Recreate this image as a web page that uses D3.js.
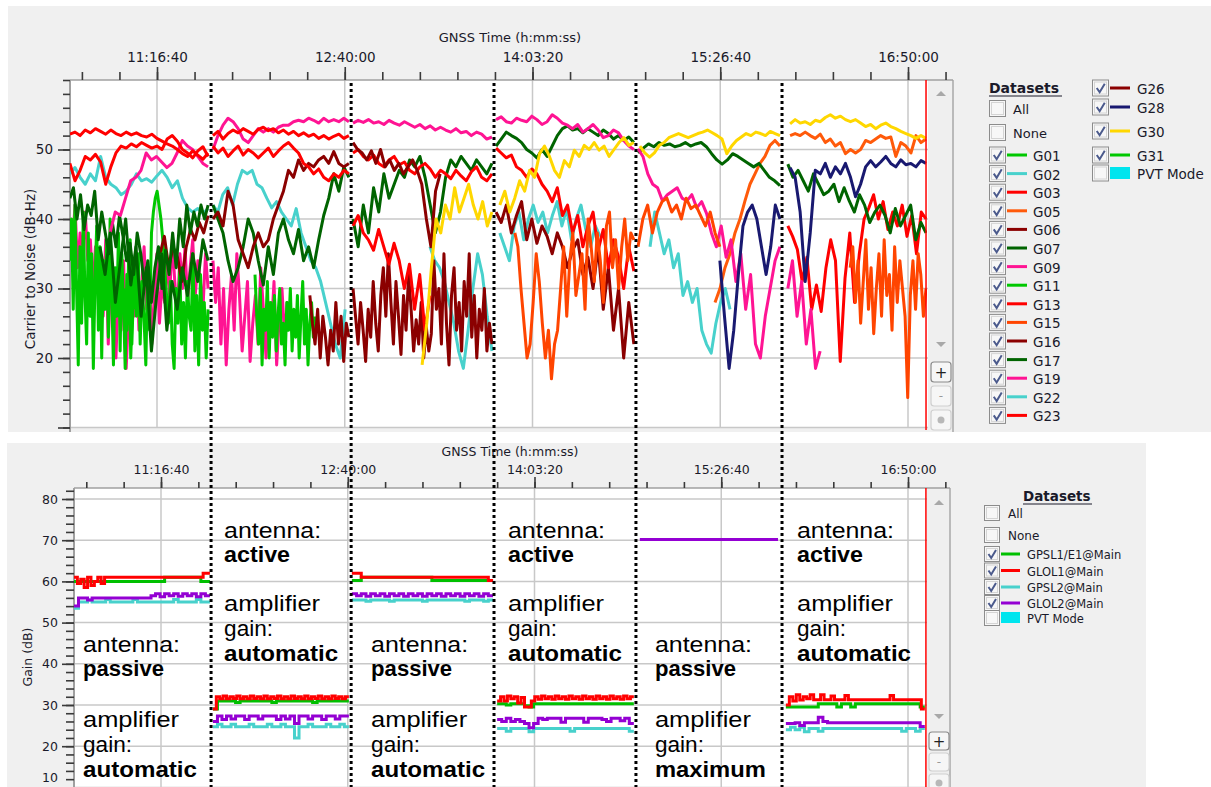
<!DOCTYPE html>
<html><head><meta charset="utf-8">
<script src="https://cdn.jsdelivr.net/npm/d3@7"></script>
<style>body{margin:0;background:#fff;} svg{display:block;}</style>
</head><body><svg id="c" width="1211" height="787"></svg>
<script>
// ================= DATA =================
// time in seconds of day (GNSS time)
const timeMajorTicks = [40600, 45600, 50600, 55600, 60600];
const timeMinorTicks = d3.range(38600, 61601, 1000);
const cnMajorTicks = [10, 20, 30, 40, 50];
const cnMinorTicks = d3.range(10, 61, 2);
const gainMajorTicks = [10, 20, 30, 40, 50, 60, 70, 80];
const gainMinorTicks = d3.range(10, 83, 2);
const modeChanges = [42040, 45770, 49575, 53355, 57245];
const cursorTime = 61080;
const antennaMode = ['passive', 'active', 'passive', 'active', 'passive', 'active'];
const gainMode = ['automatic', 'automatic', 'automatic', 'automatic', 'maximum', 'automatic'];

// Carrier to noise tracks: [start time, end time, values (dB-Hz) spread evenly]
const G01 = [[39750, 41960, [30,24,36,20,28,34,26,35,22,31,26,19,33,24,38,41,43,44,42,40,37,33,29,25,31,22,18.5,30,25,33,22,28,20,31,26,24,35,21,29,19,32,24,28,20,27]]];
const G02 = [
  [38280, 41960, [46.5,47.4,46.0,45.0,46.5,45.5,49.0,46.0,45.0,44.5,43.5,44.0,45.0,46.5,45.5,45.8,45.3,46.2,47.0,46.0,44.5,45.5,43.0,41.6,41.0,41.5,40.8,41.5]],
  [42090, 45610, [42.0,41.0,43.5,44.5,42.0,45.0,47.0,46.5,47.0,45.0,44.5,43.0,41.6,42.5,41.0,40.0,39.0,41.5,38.0,36.0,34.0,33.0,31.0,28.0,25.0,22.0,20.0,27.0]],
  [47870, 49520, [36,34,33,31,28,25,21,18.5,24,30,35,32,26,21]],
  [49730, 52400, [38,36,34,39,41,37,40,42,39.5,41,38,40.5,42.5,39,41.5,37,40,42,38.5,36,39,37.5]],
  [53730, 55860, [36,41,38,35,37,33,35,29,31,28,30,24,22,20.7,25,28,30,27]]
];
const G03 = [[57400, 61080, [39,37.5,35.6,31,34.5,27,30.5,26.7,33,37,34,19.5,31.5,38,28,35,40,41.6,43.5,40,42.5,38.5,41,39,42,37.5,40.5,35,41,40]]];
const G05 = [
  [55460, 57190, [28,30,33,35,38,40,42.6,45,46.5,48,49,50.6,51.3,50.5]],
  [57460, 61080, [52.0,52.3,52.0,52.5,52.0,51.6,52.2,51.0,51.5,50.5,51.0,49.4,50.0,49.5,50.0,51.3,51.0,51.5,52.0,51.6,51.8,49.0,51.0,50.5,49.5,52.0,51.0,51.5]]
];
const G06 = [
  [40680, 41960, [35,37.5,33,36,34.5,31,36,38.5,37,39.5,38,40.5]],
  [44670, 45710, [29,25,22,27,20,26,23,19,24,21,28,22,26,19.5,25,23]],
  [45820, 49520, [30,26,22,28,24,19.5,27,23,31,25,21,29,33,26,35,28,22,31,26,20.5,29,24,32,27,21,25.5,22,28,20,24.5,21,23.5,34,27,30,22,35,25,19,29,33,24,28,21,31,26,35,23,29,20,27,24,30,21,25,22]],
  [49630, 53300, [41,39.5,42,38,40.5,42.5,37,40,36.5,39,37.5,35,38,36,33,35.5,37,32,34.5,30,36,27,33,24,30,20,28,22]]
];
const G07 = [
  [38280, 41960, [43,44.5,40,43.5,38.5,42,40.5,44,37,41,38,35,39.5,36,40.5,37.5,34,36.5,32,38,35,30.5,34,28,33,36,30,35.5,32,38,33,40,36,42,38,41,39,42,40,42]],
  [42090, 45710, [42,40,38,34,31,33,36,40,38,34,30.5,36,32,38,40,37,35,38.5,34,36,33,37,40.5,43,46.5,44,47.5,46]],
  [45820, 49520, [40,36,42,38,44.5,41,46.5,43,45,47,46,48.5,47.5,49,46,42,38,41,46,48.5,47.5,49,48,47,48.5,47.5,46.5,48]],
  [49630, 53300, [50.5,51.5,52.5,52.0,51.6,51.0,50.0,49.5,48.8,50.0,49.0,50.5,52.0,53.0,53.4,52.8,53.0,52.4,53.0,52.5,52.0,52.8,52.3,51.5,52.0,51.3,51.8,51.0]],
  [53410, 57190, [49.5,50.2,50.8,50.4,51.0,50.6,50.8,50.4,50.6,51.0,50.5,50.8,51.0,50.4,49.4,48.5,47.9,48.5,49.4,49.0,48.5,48.0,47.5,48.0,47.0,46.0,45.5,44.8]],
  [57400, 61080, [47.9,46.0,47.0,45.5,44.0,46.5,45.0,43.5,44.0,45.0,42.5,44.5,42.6,41.0,43.5,42.0,39.5,41.0,42.0,40.5,38.0,41.5,39.0,40.5,42.0,37.0,39.5,38.0]]
];
const G09 = [
  [39350, 41960, [38,41,40.5,43,45.5,46,47,49.5,48.5,49,48.2,47.4,48,49.5,51.3,50.5,50,49,48,47.5]],
  [42090, 45710, [50.0,52.0,53.5,54.5,54.0,53.0,51.5,51.0,52.0,53.0,52.5,53.0,52.5,53.2,53.5,53.5,54.0,54.2,54.0,54.5,54.2,53.8,54.5,54.0,54.3,54.0,54.5,54.0]],
  [45820, 49520, [53.8,54.2,53.9,54.3,53.8,54.0,53.6,54.2,53.8,53.5,54.0,53.6,53.2,53.6,53.0,53.4,52.8,53.2,52.8,52.5,53.0,52.4,52.6,52.0,52.5,52.2,51.5,51.8]],
  [49630, 53300, [54.3,54.7,54.0,53.8,54.5,54.2,54.0,54.8,54.3,53.6,54.0,55.0,54.5,53.8,53.5,53.0,53.6,52.5,53.0,53.6,52.8,51.7,52.0,52.8,52.4,51.3,50.5,50.0]],
  [53410, 57190, [50.1,49,46.5,45,44.5,42.6,43.5,44,44.5,43,42.6,43.5,41.6,42.5,40.8,38,36,39,34.5,37,31,35,27,32,22,20,26,30,34,36]],
  [57400, 58260, [30,34,26,31,22,27,18.5,21]]
];
const G11 = [
  [38280, 40020, [34,40,27,42,30,19,36,25,41,29,22,38,26,35,18.5,31,39,24,36,20,34,27,37,23,40,29,19,33,26,38,21,35,28,18.5,32,25,37,22,30,27]],
  [43210, 44810, [32,26,22,30,19,27,24,31,20,28,23,29,21,26,30,22,25,19,28,24,30,21,27,23,29,20,26,31,22,27,19,25,28,23,26]]
];
const G13 = [
  [38280, 41960, [52.2,52.5,52.0,52.8,52.4,53.0,52.6,52.2,52.8,52.3,52.0,52.5,52.1,52.4,52.0,51.8,52.2,51.6,51.2,50.8,50.5,50.0,49.4,49.0,49.8,49.2,48.6,49.5]],
  [42090, 45710, [52.0,52.6,51.5,52.3,52.8,52.4,53.0,52.6,52.2,52.9,53.2,52.7,53.0,52.4,52.8,52.2,52.6,52.0,52.4,51.9,52.2,51.6,52.0,51.5,51.9,52.2,51.6,52.0]],
  [45820, 49520, [49.5,50.0,49.0,48.5,49.2,48.0,47.5,48.5,49.0,47.8,48.2,47.0,46.5,47.5,48.0,47.2,46.0,47.0,46.5,45.8,47.0,46.2,45.5,46.8,47.5,46.0,45.5,46.5]],
  [49630, 53300, [50.2,49.5,48.8,49.2,47.5,47.0,46.0,47.2,46.5,45.0,44.0,42.5,44.5,40.5,42.0,38.0,40.5,36.0,39.0,41.0,35.5,38.5,33.0,37.0,34.5,30.0,36.0,32.5]]
];
const G15 = [
  [50130, 53300, [38,36,30,25,20,22,28,35,31,25,20,24,17,22,24,30,36,26,34,38,29,32,35,27,40,36,31,38,34,28,39,41,33,37,30,36,40,34,38,37]],
  [53410, 55590, [36,40,42,38,41,42.5,43,41,42,40,43,41.5,42,40.5,39,41,38,36]],
  [59060, 61080, [33,36,28,34,25,31,37,27,33,23.5,30,35,26,37,29,32,24,36,28,34,30,26,14.3,29,34,27,35,32,26,30]]
];
const G16 = [
  [42090, 45710, [40,41,39,44,42,37,35,33,36,38,36,37,40,42,44,47,46,48.5,47,48,47.5,48.5,49,48,49.7,48,47.5,48]],
  [45820, 48140, [51,50,49.5,48.5,49.8,48,50,47.5,48.5,47,48,46.5,47.5,48.5,47,45,40,36,44,46.5]]
];
const G17 = [[39080, 41960, [36,32,38,28,34,40,30.5,36,26,33,21,29,35,24,31,27,33,29,35,31,37,34]]];
const G19 = [
  [38280, 41960, [40,36,42,33,38,35,41,34,37,30,36,33,31,26,37,22,33,28,20,31,24,34,18.5,27,32,26,35,24,30,36,27,33,22,29,35,25,31,28,34,29,37,31,26,35,30,36,28,33,37,29,34,31,27,35,30]],
  [42090, 44140, [34,28,33,22,30,19,27,32,24,35,29,21,26,31,19.5,25,29,22,33,27,20,28,24,31,19,26,30,23,28,25]]
];
const G22 = [];
const G23 = [
  [38280, 41960, [48.0,45.5,47.0,49.0,48.5,49.3,48.2,45.0,47.5,49.5,50.5,50.2,50.8,50.4,51.0,50.6,50.2,50.5,50.0,51.5,52.0,51.2,50.0,49.5,48.8,49.8,50.4,49.0]],
  [42090, 45710, [50.5,49.5,50.2,49.0,49.8,50.5,49.2,50.0,49.5,48.8,49.5,50.2,49.0,49.8,50.5,51.0,50.2,49.5,48.0,47.5,46.5,47.2,46.0,45.5,46.5,46.0,47.0,46.5]],
  [45820, 47870, [39,40.5,38,37,35.5,38.5,36,33.5,36.5,34,30,33.5,27,32,24,29]]
];
const G26 = [];
const G28 = [
  [55590, 57190, [34,26,18.5,24,32,39,41,42,40,36,32,36,42,40]],
  [57460, 61080, [47.4,46.0,41.0,31.0,38.0,47.0,46.5,48.0,46.0,47.5,46.5,48.0,46.0,43.2,45.0,47.5,48.4,47.5,48.2,49.0,48.0,47.5,48.5,47.8,48.0,47.5,48.4,48.0]]
];
const G30 = [
  [47660, 49520, [19,25,33,40,38,42,40,44.5,41,43,45,42,40,42.5,39,41]],
  [49730, 53300, [42.0,44.0,41.0,43.0,45.5,44.0,47.0,46.0,49.4,50.5,49.0,47.0,46.0,48.4,47.5,49.9,49.0,50.6,50.0,51.0,49.9,50.5,49.0,50.0,51.0,51.7,50.6,51.0]],
  [53460, 57190, [50.5,49.5,48.9,49.5,50.6,51.0,51.7,52.0,52.3,52.0,51.7,52.0,52.3,52.5,52.8,52.4,52.0,51.5,49.4,50.5,51.3,51.8,52.3,52.0,52.5,52.3,52.0,52.6,52.3,52.0]],
  [57460, 61080, [53.7,54.3,53.8,54.0,53.6,54.2,54.0,54.6,55.0,54.5,54.8,54.3,54.0,54.3,53.8,53.3,53.6,53.0,53.5,53.8,53.3,53.0,52.6,52.3,52.0,51.6,52.0,51.6]]
];
const G31 = [];

// Gain tracks (dB): [start time, end time, values]
const GPSL1 = [
  [38270, 41910, [60,60,60,60,60,60,60,60,60,60,60,60,60,60,60,60,60,60,60,60,61,61,61,61,61,61,61,61,60,60]],
  [41990, 45630, [29,31,31,31,31,30.6,31,31,31,31,31,31,31,30.6,31,31,31,31,31,31,31,31,30.6,31,31,31,31,31,31,31]],
  [45710, 49490, [60.2,60.2,61,61,61,61,61,61,61,61,61,61,61,61,61,61,61,60.2,60.2,60.2,60.2,60.2,60.2,60.2,60.2,60.2,60.2,60.2,60.2,60.2]],
  [49600, 53260, [30.3,30.3,30,30.3,30.3,30.3,29.8,29.5,30.3,30.3,30.3,30.3,30.3,30.3,30.3,30.3,30.3,30.3,30.3,30.3,30.3,30.3,30.3,30.3,30.3,30.3,30.3,30.3,30.3,30.3]],
  [57330, 61050, [29.5,29.5,29.5,29.5,29.5,29.5,29.5,30.3,30.3,30.3,30.3,29.5,30.3,30.3,29.5,30.3,30.3,30.3,30.3,30.3,30.3,30.3,30.3,30.3,30.3,30.3,30.3,30.3,30.3,29.5]]
];
const GLOL1 = [
  [38270, 41910, [61,59.5,60.5,58.5,61,59,60,61,59.5,61,61,61,61,61,61,61,61,61,61,61,61,61,61,61,61,61,61,61,61,61,61,61,61,61,61,61,61,61,62,62]],
  [41990, 45630, [29,32,31.5,32.2,31.5,32,31.6,32.2,31.5,32,31.5,32.2,31.6,32,31.5,32.2,31.5,32,31.6,32.2,31.5,32,31.5,32.2,31.6,32,31.5,32.2,31.5,32,31.6,32.2,31.5,32,31.5,32.2,31.6,32,31.5,32]],
  [45710, 49490, [62,62,61,61,61,61,61,61,61,61,61,61,61,61,61,61,61,61,61,61,61,61,61,61,61,61,61,61,61,60.2]],
  [49600, 53260, [31,32,31,32.2,31.5,32,30.5,31.8,29.5,29.5,31,32,31.4,32.2,31.5,32,31.4,32.2,31.5,32,31.4,32.2,31.5,32,31.4,32.2,31.5,32,31.4,32.2,31.5,32,31.4,32.2,31.5,32,31.4,32.2,31.5,32]],
  [57330, 61050, [30,32,31,32.5,31.2,32,31.5,32.5,31.3,31.3,32.5,31.3,31.3,32.2,31.3,31.3,31.3,32.3,31.3,31.3,31.3,31.3,31.3,31.3,31.3,31.3,31.3,31.3,31.3,31.3,32.3,31.3,31.3,31.3,31.3,31.3,31.3,31.3,31.3,29]]
];
const GPSL2 = [
  [38270, 41910, [53.5,55,55,55.5,55,55,55,55.6,55,55,55,55,55,55.6,55,55,55,55,55,55,55,55,55.6,55,55,55,55,55.6,55,55]],
  [41990, 45630, [24.7,25.3,24.7,24.7,25.3,24.7,24.7,24.7,25.3,24.7,24.7,24.7,25.3,24.7,24.7,25.3,24.7,24.7,22,24.7,24.7,25.3,24.7,24.7,24.7,25.3,24.7,24.7,25.3,24.7]],
  [45710, 49490, [55.5,55.5,55.5,55.2,55.5,55.5,55.5,55.5,55.2,55.5,55.5,55.5,55.5,55.5,55.5,55.2,55.5,55.5,55.5,55.5,55.5,55.5,55.5,55.5,55.2,55.5,55.5,55.5,55.2,55.5]],
  [49600, 53260, [24.3,24.3,23.6,24.3,24.3,24.3,24.3,23.5,24.3,24.3,24.3,24.3,24.3,24.3,24.3,24.3,23.6,24.3,24.3,24.3,24.3,24.3,24.3,24.3,24.3,24.3,24.3,24.3,24.3,23.6]],
  [57330, 61050, [24,24.6,24,24.6,23.5,24.3,24.3,23.6,24.3,24.3,24.3,24.3,24.3,24.3,24.3,24.3,24.3,24.3,24.3,24.3,24.3,24.3,24.3,24.3,24.3,23.6,24.3,24.3,23.6,24.3]]
];
const GLOL2 = [
  [38270, 41910, [54,56,56,55.5,56,56,56,56,56,56,56,56,56,56,56,56,56,56.5,57,56.3,57,56.5,57,56.4,57,56.5,57,56.3,57,56.5]],
  [41990, 45630, [26,27.3,26.5,27.3,26.6,27.3,27.3,26.5,27.3,27.3,26.6,27.3,27.3,27.3,26.5,27.3,26.6,27.3,25.5,27.3,27.3,26.6,27.3,27.3,26.5,27.3,27.3,26.6,27.3,27.3]],
  [45710, 49490, [57,56.5,57,56.4,57,56.5,57,56.4,57,56.5,57,56.4,57,56.5,57,56.4,57,56.5,57,56.4,57,56.5,57,56.4,57,56.5,57,56.4,57,56.5]],
  [49600, 53260, [26.5,26,26.8,26,26.5,26,25.5,24.5,25.5,26.8,26.5,26.8,26.8,26.8,25.8,26.8,26.8,26.8,26.8,25.8,26.8,26.8,26.8,26.5,26,26.8,26.8,26.2,26.8,25.5]],
  [53420, 57120, [70.2,70.2]],
  [57330, 61050, [25.5,25.5,25.7,25,25.7,25.7,25.7,27,26,25.7,25.7,25.7,25.7,25.7,25.7,25.7,25.7,25.7,25.7,25.7,25.7,25.7,25.7,25.7,25.7,25.7,25.7,25.7,25.7,24.8]]
];

const satNames = ['G01','G02','G03','G05','G06','G07','G09','G11','G13','G15','G16','G17','G19','G22','G23','G26','G28','G30','G31'];
const satTracks = {G01,G02,G03,G05,G06,G07,G09,G11,G13,G15,G16,G17,G19,G22,G23,G26,G28,G30,G31};
const drawOrder = ['G19','G01','G11','G02','G03','G05','G06','G07','G09','G13','G15','G16','G17','G22','G23','G26','G28','G30','G31'];
const gainNames = ['GPSL1/E1@Main','GLOL1@Main','GPSL2@Main','GLOL2@Main'];
const gainTracks = [GPSL1, GLOL1, GPSL2, GLOL2];

// ================= STYLE =================
const satColor = {G01:'#00c800',G02:'#48d1cc',G03:'#ff0000',G05:'#ff5a0a',G06:'#8b0000',G07:'#006400',G09:'#ff1493',G11:'#00c800',G13:'#ff0000',G15:'#ff4500',G16:'#8b0000',G17:'#006400',G19:'#ff1493',G22:'#48d1cc',G23:'#ff0000',G26:'#8b0000',G28:'#191970',G30:'#ffd700',G31:'#00c800'};
const gainColor = ['#00c000','#ff0000','#48d1cc','#9400d3'];
const UI = "'DejaVu Sans', Verdana, sans-serif";
const ANN = "'Liberation Sans', Arial, sans-serif";
const annWidth = {'antenna:':97, passive:81, active:66, amplifier:96, 'gain:':49, automatic:114, maximum:111};

const svg = d3.select('#c');
const fmtTime = s => { const h = Math.floor(s/3600), m = Math.floor(s%3600/60), ss = s%60; return h + ':' + String(m).padStart(2,'0') + ':' + String(ss).padStart(2,'0'); };
function toPoints(tr){ const [t0,t1,v] = tr; const dt = (t1-t0)/v.length; const p = v.map((y,i)=>[t0+i*dt, y]); p.push([t1, v[v.length-1]]); return p; }
function toPointsLin(tr){ const [t0,t1,v] = tr; const dt = v.length>1 ? (t1-t0)/(v.length-1) : 0; return v.map((y,i)=>[t0+i*dt, y]); }

// backgrounds
svg.append('rect').attr('x',8).attr('y',6).attr('width',1203).attr('height',426).attr('fill','#f0f0f0');
svg.append('rect').attr('x',7).attr('y',443).attr('width',1139).attr('height',344).attr('fill','#f0f0f0');

function checkbox(g, x, y, s, checked){
  g.append('rect').attr('x',x+0.5).attr('y',y+0.5).attr('width',s-1).attr('height',s-1).attr('fill','#f7f7f7').attr('stroke','#8c8c8c');
  g.append('rect').attr('x',x+2.5).attr('y',y+2.5).attr('width',s-5).attr('height',s-5).attr('fill','none').attr('stroke','#d4d4d4');
  if (checked) g.append('path').attr('d',`M${x+s*0.28},${y+s*0.5} L${x+s*0.45},${y+s*0.75} L${x+s*0.75},${y+s*0.25}`).attr('fill','none').attr('stroke','#4b5a8c').attr('stroke-width',2);
}

function panel(cfg){
  const {left, top, right, bottom, scrollR, x, y, yMajor, yMinor, majT, minT, xPad, yMajT, yMinT, yPad, fsTick, fsTitle, titleY, yTitle, yTitleX, yTitleY, fsYTitle} = cfg;
  const g = svg.append('g');
  g.append('rect').attr('x',left).attr('y',top).attr('width',right-left).attr('height',bottom-top).attr('fill','#fff');
  g.append('g').selectAll('line').data(yMajor).join('line')
    .attr('x1',left).attr('x2',right).attr('y1',d=>y(d)).attr('y2',d=>y(d)).attr('stroke','#c8c8c8').attr('stroke-width',1.5);
  g.append('g').selectAll('line').data(timeMajorTicks).join('line')
    .attr('x1',d=>x(d)).attr('x2',d=>x(d)).attr('y1',top).attr('y2',bottom).attr('stroke','#c8c8c8').attr('stroke-width',1.5);
  g.append('rect').attr('x',right).attr('y',top).attr('width',scrollR-right).attr('height',bottom-top).attr('fill','#efefef');
  g.append('line').attr('x1',scrollR).attr('x2',scrollR).attr('y1',top).attr('y2',bottom+4).attr('stroke','#a8a8a8').attr('stroke-width',1.5);
  g.append('line').attr('x1',left).attr('x2',scrollR).attr('y1',top).attr('y2',top).attr('stroke','#a0a0a0').attr('stroke-width',1.5);
  g.append('line').attr('x1',left).attr('x2',left).attr('y1',top).attr('y2',bottom+4).attr('stroke','#a0a0a0').attr('stroke-width',2);
  const ax1 = g.append('g').attr('transform',`translate(0,${top})`).call(d3.axisTop(x).tickValues(minT).tickSize(cfg.xMinLen).tickFormat(''));
  const ax2 = g.append('g').attr('transform',`translate(0,${top})`).call(d3.axisTop(x).tickValues(majT).tickSize(cfg.xMajLen).tickPadding(xPad).tickFormat(fmtTime));
  const ay1 = g.append('g').attr('transform',`translate(${left},0)`).call(d3.axisLeft(y).tickValues(yMinor).tickSize(yMinT).tickFormat(''));
  const ay2 = g.append('g').attr('transform',`translate(${left},0)`).call(d3.axisLeft(y).tickValues(yMajor).tickSize(yMajT).tickPadding(yPad).tickFormat(cfg.yFmt));
  [ax1,ax2,ay1,ay2].forEach(a=>{ a.select('.domain').remove(); a.selectAll('line').attr('stroke','#3a3a3a').attr('stroke-width',1.6);
    a.selectAll('text').attr('fill','#1a1a2a').style('font-family',UI).style('font-size',fsTick+'px'); });
  // keep an edge label fully inside the picture
  ay2.selectAll('.tick text').filter(d=> y(d) > 780).attr('dy','-0.45em');
  g.append('text').attr('x',510).attr('y',titleY).attr('text-anchor','middle').style('font-family',UI).style('font-size',fsTitle+'px').attr('fill','#1a1a2a').text('GNSS Time (h:mm:ss)');
  g.append('text').attr('transform',`translate(${yTitleX},${yTitleY}) rotate(-90)`).attr('text-anchor','middle').attr('dominant-baseline','central')
    .style('font-family',UI).style('font-size',fsYTitle+'px').attr('fill','#1a1a2a').text(yTitle);
  return g;
}

function scrollButtons(g, cx, upY, downY, bY, bH, gap){
  g.append('path').attr('d',`M${cx-5},${upY+3} L${cx},${upY-2} L${cx+5},${upY+3} Z`).attr('fill','#a8a8a8');
  g.append('path').attr('d',`M${cx-5},${downY-3} L${cx},${downY+2} L${cx+5},${downY-3} Z`).attr('fill','#a8a8a8');
  const bw = 20;
  g.append('rect').attr('x',cx-bw/2).attr('y',bY).attr('width',bw).attr('height',bH).attr('rx',3).attr('fill','#f6f6f6').attr('stroke','#8a8a8a').attr('stroke-width',1.2);
  g.append('text').attr('x',cx).attr('y',bY+bH/2+1).attr('text-anchor','middle').attr('dominant-baseline','central').style('font-family',UI).style('font-size','15px').attr('fill','#222').text('+');
  g.append('rect').attr('x',cx-bw/2).attr('y',bY+bH+gap).attr('width',bw).attr('height',bH).attr('rx',3).attr('fill','#f6f6f6').attr('stroke','#cfcfcf').attr('stroke-width',1.2);
  g.append('text').attr('x',cx).attr('y',bY+bH*1.5+gap).attr('text-anchor','middle').attr('dominant-baseline','central').style('font-family',UI).style('font-size','12px').attr('fill','#999').text('-');
  g.append('rect').attr('x',cx-bw/2).attr('y',bY+2*(bH+gap)).attr('width',bw).attr('height',bH).attr('rx',3).attr('fill','#f6f6f6').attr('stroke','#cfcfcf').attr('stroke-width',1.2);
  g.append('circle').attr('cx',cx).attr('cy',bY+2*(bH+gap)+bH/2).attr('r',3.5).attr('fill','#b8b8b8');
}

// ================= TOP PANEL =================
const xT = d3.scaleLinear().domain([40600, 60600]).range([157, 908]);
const yT = d3.scaleLinear().domain([10, 60]).range([427.5, 80]);
panel({left:70, top:80, right:928, bottom:428, scrollR:953, x:xT, y:yT, yMajor:cnMajorTicks, yMinor:cnMinorTicks,
  majT:timeMajorTicks, minT:timeMinorTicks, xMajLen:13, xMinLen:8, xPad:5, yMajT:12, yMinT:7, yPad:5, fsTick:13.5, fsTitle:13, titleY:42,
  yFmt: d=> d===10 ? '' : d, yTitle:'Carrier to Noise (dB-Hz)', yTitleX:30, yTitleY:269, fsYTitle:13.5});
svg.append('clipPath').attr('id','clipT').append('rect').attr('x',70).attr('y',80).attr('width',857).attr('height',348);
const lineT = d3.line().x(d=>xT(d[0])).y(d=>yT(d[1])).curve(d3.curveLinear);
const dataT = svg.append('g').attr('clip-path','url(#clipT)');
drawOrder.forEach(n=>{
  dataT.append('g').selectAll('path').data(satTracks[n]).join('path')
    .attr('d', tr=>lineT(toPointsLin(tr))).attr('fill','none').attr('stroke',satColor[n]).attr('stroke-width',3).attr('stroke-linejoin','round');
});
svg.append('line').attr('x1',xT(cursorTime)).attr('x2',xT(cursorTime)).attr('y1',80).attr('y2',430).attr('stroke','#ff0000').attr('stroke-width',1.5);
scrollButtons(svg, 941, 93, 345, 362, 20, 4);

// top legend
const legT = svg.append('g');
const rowsT = [88, 108.5, 132.5, 155];
for (let i=1;i<15;i++) rowsT.push(155 + i*18.6);
legT.append('text').attr('x',989).attr('y',rowsT[0]).attr('dominant-baseline','central').style('font-family',UI).style('font-size','14px').style('font-weight','bold').attr('fill','#1a1a2a').text('Datasets');
legT.append('line').attr('x1',989).attr('x2',1062).attr('y1',96).attr('y2',96).attr('stroke','#1a1a2a').attr('stroke-width',1.2);
[['All',1],['None',2]].forEach(([t,r])=>{ checkbox(legT,989,rowsT[r]-8.5,17,false);
  legT.append('text').attr('x',1013).attr('y',rowsT[r]+1).attr('dominant-baseline','central').style('font-family',UI).style('font-size','13px').attr('fill','#1a1a2a').text(t); });
const col1 = satNames.slice(0,15), col2 = satNames.slice(15);
function legItem(g, bx, lx1, lx2, tx, cy, name, color, size, fs, lw){
  checkbox(g, bx, cy-size/2, size, true);
  g.append('line').attr('x1',lx1).attr('x2',lx2).attr('y1',cy).attr('y2',cy).attr('stroke',color).attr('stroke-width',lw);
  g.append('text').attr('x',tx).attr('y',cy+1).attr('dominant-baseline','central').style('font-family',UI).style('font-size',fs+'px').attr('fill','#1a1a2a').text(name);
}
col1.forEach((n,i)=> legItem(legT, 989, 1007, 1027, 1033, rowsT[3+i], n, satColor[n], 17, 13.5, 3));
col2.forEach((n,i)=> legItem(legT, 1092, 1110, 1130, 1137, [88,107,131,155][i], n, satColor[n], 17, 13.5, 3));
checkbox(legT,1092,173-8.5,17,false);
legT.append('rect').attr('x',1110).attr('y',167).attr('width',20).attr('height',12).attr('fill','#00e5ee');
legT.append('text').attr('x',1137).attr('y',174).attr('dominant-baseline','central').style('font-family',UI).style('font-size','13.5px').attr('fill','#1a1a2a').text('PVT Mode');

// ================= BOTTOM PANEL =================
const xB = d3.scaleLinear().domain([40600, 60600]).range([161, 908]);
const yB = d3.scaleLinear().domain([10, 80]).range([787.4, 499]);
panel({left:74, top:488, right:927, bottom:790, scrollR:950, x:xB, y:yB, yMajor:gainMajorTicks, yMinor:gainMinorTicks,
  majT:timeMajorTicks, minT:timeMinorTicks, xMajLen:11, xMinLen:6, xPad:3.5, yMajT:12, yMinT:8, yPad:4, fsTick:12.5, fsTitle:12.5, titleY:456,
  yFmt: d=>d, yTitle:'Gain (dB)', yTitleX:27, yTitleY:657, fsYTitle:12.5});
svg.append('clipPath').attr('id','clipB').append('rect').attr('x',74).attr('y',488).attr('width',852).attr('height',300);
const lineB = d3.line().x(d=>xB(d[0])).y(d=>yB(d[1])).curve(d3.curveStepAfter);
const dataB = svg.append('g').attr('clip-path','url(#clipB)');
gainTracks.forEach((trs,i)=>{
  dataB.append('g').selectAll('path').data(trs).join('path')
    .attr('d', tr=>lineB(toPoints(tr))).attr('fill','none').attr('stroke',gainColor[i]).attr('stroke-width',3);
});
svg.append('line').attr('x1',xB(cursorTime)).attr('x2',xB(cursorTime)).attr('y1',488).attr('y2',787).attr('stroke','#ff0000').attr('stroke-width',1.5);
scrollButtons(svg, 939, 502, 717, 732, 18, 3);

// bottom legend
const legB = svg.append('g');
legB.append('text').attr('x',1023).attr('y',496).attr('dominant-baseline','central').style('font-family',UI).style('font-size','13.5px').style('font-weight','bold').attr('fill','#1a1a2a').text('Datasets');
legB.append('line').attr('x1',1023).attr('x2',1092).attr('y1',504).attr('y2',504).attr('stroke','#1a1a2a').attr('stroke-width',1.2);
[['All',513],['None',535]].forEach(([t,cy])=>{ checkbox(legB,984,cy-8,16,false);
  legB.append('text').attr('x',1008).attr('y',cy+1).attr('dominant-baseline','central').style('font-family',UI).style('font-size','12px').attr('fill','#1a1a2a').text(t); });
const rowsB = [554, 570.5, 587, 603];
gainNames.forEach((n,i)=> legItem(legB, 984, 1001, 1020, 1027, rowsB[i], n, gainColor[i], 16, 11.5, 3));
checkbox(legB,984,618-8,16,false);
legB.append('rect').attr('x',1001).attr('y',612).attr('width',19).attr('height',11).attr('fill','#00e5ee');
legB.append('text').attr('x',1027).attr('y',619).attr('dominant-baseline','central').style('font-family',UI).style('font-size','11.5px').attr('fill','#1a1a2a').text('PVT Mode');

// ================= MODE CHANGE MARKERS & ANNOTATIONS =================
svg.append('g').selectAll('line').data(modeChanges).join('line')
  .attr('x1',d=>xT(d)).attr('x2',d=>xT(d)).attr('y1',83).attr('y2',787)
  .attr('stroke','#000').attr('stroke-width',3).attr('stroke-dasharray','3,3');

const segStartX = [70].concat(modeChanges.map(d=>xT(d)));
const segOffset = [13, 13, 20, 14, 19, 15];
const annG = svg.append('g').style('font-family',ANN).style('font-size','21.3px').attr('fill','#000');
antennaMode.forEach((mode,i)=>{
  const x0 = segStartX[i] + segOffset[i];
  const base = mode === 'passive' ? [652, 676, 727, 752, 777] : [538, 562, 611, 636, 661];
  const lines = [['antenna:',false],[mode,true],['amplifier',false],['gain:',false],[gainMode[i],true]];
  lines.forEach(([s,b],k)=>{
    annG.append('text').attr('x',x0).attr('y',base[k]).style('font-weight', b?'bold':'normal')
      .attr('textLength', annWidth[s]).attr('lengthAdjust','spacingAndGlyphs').text(s);
  });
});
</script>
</body></html>
